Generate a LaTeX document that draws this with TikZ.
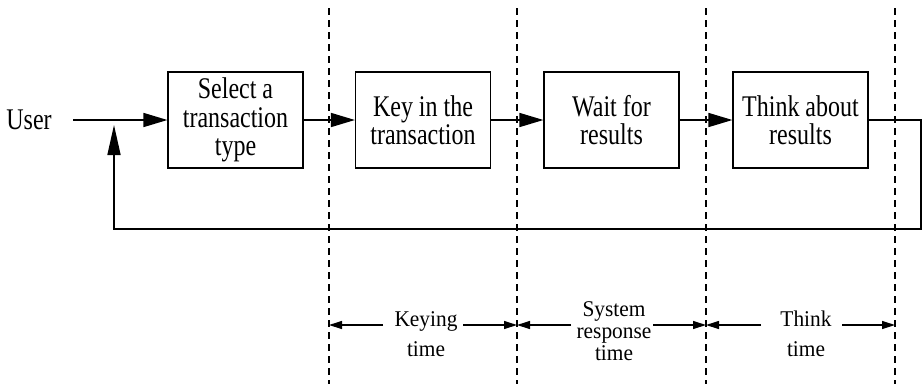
\documentclass[tikz,border=0pt]{standalone}
\usepackage{fontspec}
\setmainfont{Liberation Serif}[FakeStretch=0.8]
\newfontfamily\labfont{Liberation Serif}[FakeStretch=0.95]
\usetikzlibrary{arrows.meta}
\begin{document}
\begin{tikzpicture}[x=1pt,y=-1pt,
  box/.style={draw,line width=1.2pt,minimum width=135pt,minimum height=96pt,inner sep=0pt,align=center,font=\fontsize{30}{28.5}\selectfont},
  flow/.style={line width=1.6pt,-{Triangle[length=24pt,width=14pt]}},
  sepline/.style={dash pattern=on 7pt off 5pt,line width=1.1pt},
  span/.style={line width=1.2pt,-{Triangle[length=13pt,width=8pt]}},
  lab/.style={align=center,inner sep=0pt}]
\useasboundingbox (0,0) rectangle (922,384);
% separators
\foreach \x in {329,517,706,895} \draw[sepline] (\x,8) -- (\x,384);
% nodes
\node[inner sep=0pt,font=\fontsize{30}{30}\selectfont] (user) at (29,120) {User};
\node[box] (b1) at (235.5,120) {Select a\\transaction\\type};
\node[box] (b2) at (423,120) {Key in the\\transaction};
\node[box] (b3) at (611.5,120) {Wait for\\results};
\node[box] (b4) at (800.5,120) {Think about\\results};
% connectors
\coordinate (uin) at (73,120);
\draw[flow] (uin) -- (b1.west);
\draw[flow] (b1) -- (b2);
\draw[flow] (b2) -- (b3);
\draw[flow] (b3) -- (b4);
\coordinate (c1) at (921,120);
\coordinate (c2) at (921,229);
\coordinate (c3) at (114,229);
\coordinate (fbtip) at (114,125);
\draw[line width=1.6pt,-{Triangle[length=30pt,width=13pt]}] (b4.east) -- (c1) -- (c2) -- (c3) -- (fbtip);
% time spans
\draw[span] (383,325) -- (329,325);
\draw[span] (463,325) -- (517,325);
\draw[span] (571,325) -- (517,325);
\draw[span] (653,325) -- (706,325);
\draw[span] (761,325) -- (706,325);
\draw[span] (842,325) -- (895,325);
\node[lab,font=\labfont\fontsize{22.5}{30}\selectfont] (lk) at (426,334) {Keying\\time};
\node[lab,font=\labfont\fontsize{22.5}{22}\selectfont] (ls) at (614,331) {System\\response\\time};
\node[lab,font=\labfont\fontsize{22.5}{30}\selectfont] (lt) at (806,334) {Think\\time};
\end{tikzpicture}
\end{document}
